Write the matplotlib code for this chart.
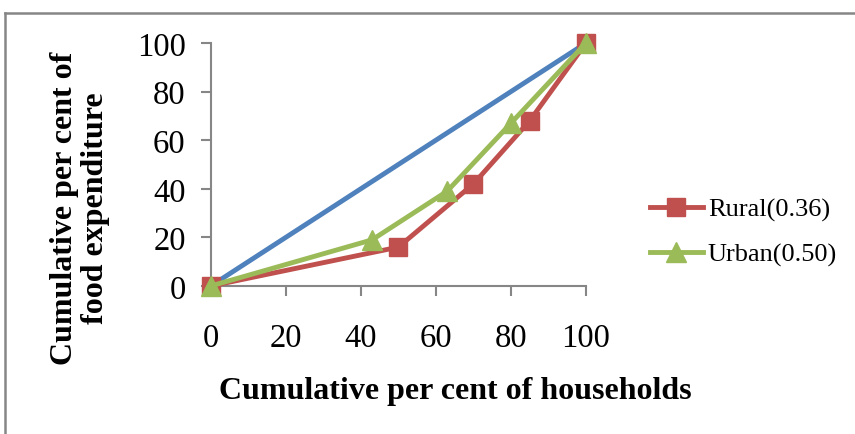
import matplotlib
matplotlib.use("Agg")
import matplotlib.pyplot as plt
from matplotlib.lines import Line2D

plt.rcParams['font.family'] = ['Liberation Serif', 'DejaVu Serif']

equality_x = [0, 100]
equality_y = [0, 100]
rural_x = [0, 50, 70, 85, 100]
rural_y = [0, 16, 42, 68, 100]
urban_x = [0, 43, 63, 80, 100]
urban_y = [0, 19, 39, 67, 100]
rural_label = "Rural(0.36)"
urban_label = "Urban(0.50)"
ticks = [0, 20, 40, 60, 80, 100]
x_title = "Cumulative per cent of households"
y_title = "Cumulative per cent of\nfood expenditure"

fig = plt.figure(figsize=(8.55, 4.35), dpi=100)
ax = fig.add_axes([0.2464, 0.3402, 0.4390, 0.5587])

gray = '#868686'
ax.plot(equality_x, equality_y, color='#4F81BD', lw=3.5, clip_on=False, zorder=3)
ax.plot(rural_x, rural_y, color='#C0504D', lw=3.5, marker='s', ms=13,
        clip_on=False, zorder=4, label=rural_label)
ax.plot(urban_x, urban_y, color='#9BBB59', lw=3.5, marker='^', ms=14,
        clip_on=False, zorder=5, label=urban_label)

ax.set_xlim(0, 100)
ax.set_ylim(0, 100)
ax.set_xticks(ticks)
ax.set_yticks(ticks)
for s in ['top', 'right']:
    ax.spines[s].set_visible(False)
for s in ['left', 'bottom']:
    ax.spines[s].set_color(gray)
    ax.spines[s].set_linewidth(1.5)
ax.tick_params(axis='both', colors=gray, length=7, width=1.5, labelsize=23.5,
               labelcolor='black', direction='out')
ax.tick_params(axis='x', pad=19)
ax.tick_params(axis='y', pad=11)

fig.text(455 / 855, 1 - 392 / 435, x_title, fontsize=23, fontweight='bold',
         ha='center', va='center')
fig.text(80 / 855, 1 - 208 / 435, y_title, fontsize=23, fontweight='bold',
         ha='center', va='center', rotation=90, multialignment='center',
         linespacing=1.05)

leg = ax.legend(loc='center left', bbox_to_anchor=(1.17, 0.223), frameon=False,
                fontsize=19, handlelength=2.0, labelspacing=0.8,
                handletextpad=0.2, borderaxespad=0, borderpad=0)

# outer frame (top and left visible)
fig.add_artist(Line2D([0.006, 0.006], [0.0, 0.968], color=gray, lw=1.8,
                      transform=fig.transFigure))
fig.add_artist(Line2D([0.006, 1.0], [0.968, 0.968], color=gray, lw=1.8,
                      transform=fig.transFigure))

fig.savefig("out.png", dpi=100)
